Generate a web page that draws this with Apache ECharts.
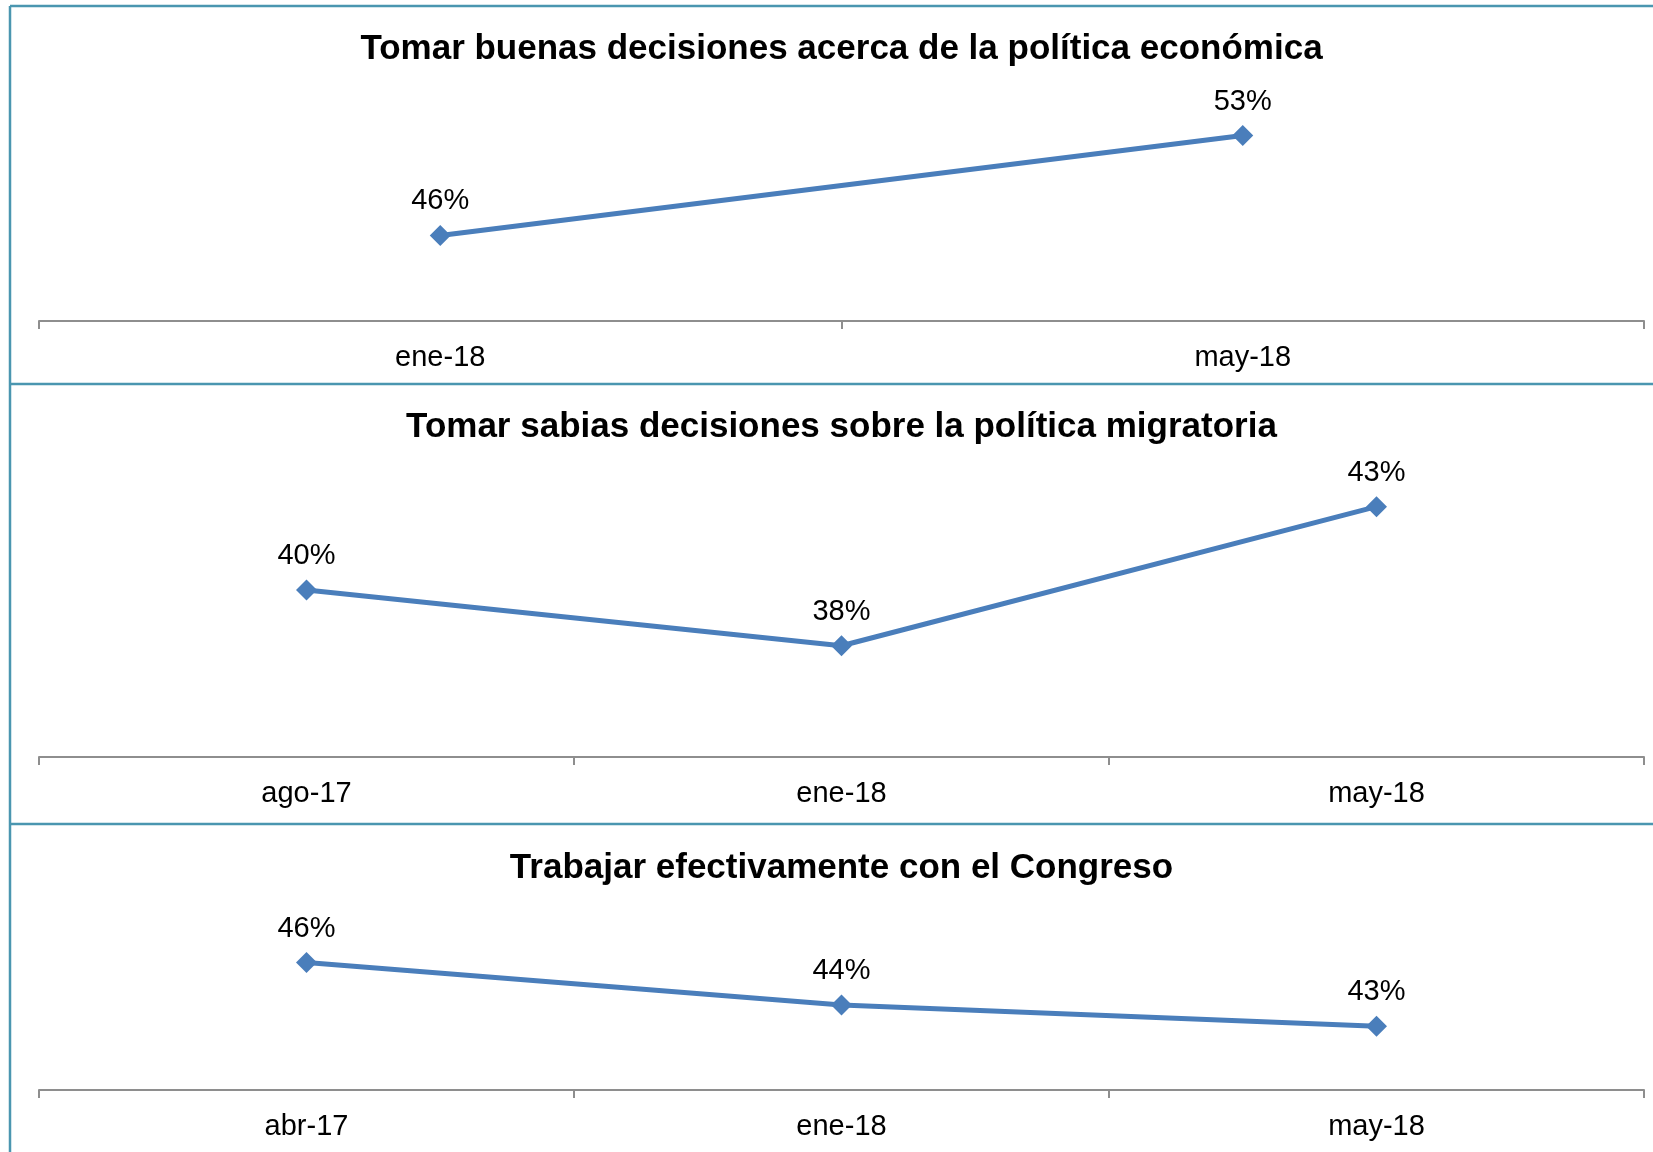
<!DOCTYPE html>
<html>
<head>
<meta charset="utf-8">
<script src="https://cdn.jsdelivr.net/npm/echarts@6/dist/echarts.min.js"></script>
<style>
  html, body { margin: 0; padding: 0; background: #ffffff; }
  #chart { width: 1653px; height: 1152px; }
</style>
</head>
<body>
<div id="chart"></div>
<script>
// Panel titles
const titles = [
  'Tomar buenas decisiones acerca de la política económica',
  'Tomar sabias decisiones sobre la política migratoria',
  'Trabajar efectivamente con el Congreso'
];

// Survey dates per panel
const datesEconomia = ['ene-18', 'may-18'];
const datesMigracion = ['ago-17', 'ene-18', 'may-18'];
const datesCongreso = ['abr-17', 'ene-18', 'may-18'];

// Approval shares (%)
const valuesEconomia = [46, 53];
const valuesMigracion = [40, 38, 43];
const valuesCongreso = [46, 44, 43];

const W = 1653;
const LINE = '#4A7EBB';
const FRAME = '#4A96B0';
const AXIS = '#8E8E8E';
const FONT = '"Liberation Sans", Arial, sans-serif';

// layout of each panel: plot top/bottom (px) and hidden value range
const panels = [
  { cats: datesEconomia, vals: valuesEconomia, top: 107, bottom: 321, min: 40, max: 55, titleY: 52 },
  { cats: datesMigracion, vals: valuesMigracion, top: 451, bottom: 757, min: 34, max: 45, titleY: 430 },
  { cats: datesCongreso, vals: valuesCongreso, top: 920, bottom: 1090, min: 40, max: 48, titleY: 871 }
];

const chart = echarts.init(document.getElementById('chart'), null, { renderer: 'canvas' });

const option = {
  backgroundColor: '#ffffff',
  animation: false,
  title: panels.map((p, i) => ({
    text: titles[i],
    left: 841.5,
    top: p.titleY - 20,
    textAlign: 'center',
    padding: 0,
    textStyle: { fontFamily: FONT, fontSize: 35, fontWeight: 'bold', color: '#000000' }
  })),
  grid: panels.map(p => ({
    left: 39,
    right: W - 1644,
    top: p.top,
    height: p.bottom - p.top,
    containLabel: false
  })),
  xAxis: panels.map((p, i) => ({
    type: 'category',
    gridIndex: i,
    data: p.cats,
    boundaryGap: true,
    axisLine: { show: true, lineStyle: { color: AXIS, width: 2 } },
    axisTick: { show: true, length: 8, alignWithLabel: false, lineStyle: { color: AXIS, width: 2 } },
    axisLabel: { margin: 22, fontFamily: FONT, fontSize: 29, color: '#000000' },
    splitLine: { show: false }
  })),
  yAxis: panels.map((p, i) => ({
    type: 'value',
    gridIndex: i,
    min: p.min,
    max: p.max,
    show: false,
    splitLine: { show: false }
  })),
  series: panels.map((p, i) => ({
    type: 'line',
    xAxisIndex: i,
    yAxisIndex: i,
    data: p.vals,
    symbol: 'diamond',
    symbolSize: 21,
    showAllSymbol: true,
    lineStyle: { color: LINE, width: 5 },
    itemStyle: { color: LINE },
    label: {
      show: true,
      position: 'top',
      distance: 9,
      formatter: '{c}%',
      fontFamily: FONT,
      fontSize: 29,
      color: '#000000'
    }
  })),
  graphic: [
    // outer frame and panel dividers
    { type: 'line', shape: { x1: 10, y1: 6, x2: 10, y2: 1152 }, style: { stroke: FRAME, lineWidth: 2.5 } },
    { type: 'line', shape: { x1: 10, y1: 6, x2: W, y2: 6 }, style: { stroke: FRAME, lineWidth: 2.5 } },
    { type: 'line', shape: { x1: 10, y1: 384, x2: W, y2: 384 }, style: { stroke: FRAME, lineWidth: 2.5 } },
    { type: 'line', shape: { x1: 10, y1: 824, x2: W, y2: 824 }, style: { stroke: FRAME, lineWidth: 2.5 } }
  ]
};

chart.setOption(option);
</script>
</body>
</html>
